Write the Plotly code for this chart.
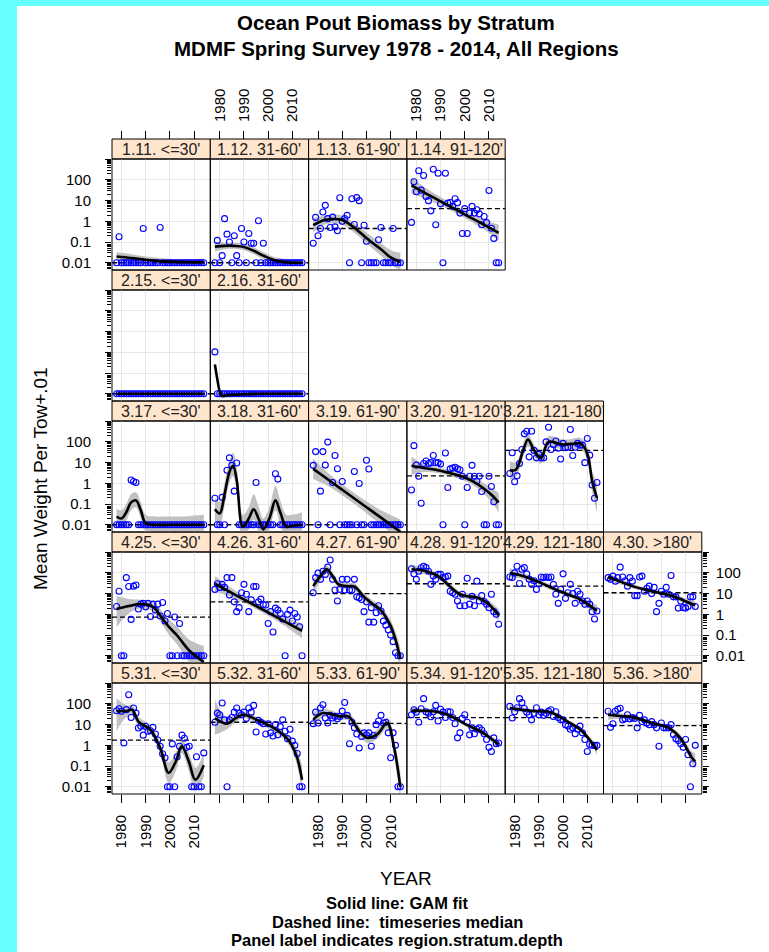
import plotly.graph_objects as go

W, H = 769, 952

YEARS = [1978, 1979, 1980, 1981, 1982, 1983, 1984, 1985, 1986, 1987,
         1988, 1989, 1990, 1991, 1992, 1993, 1994, 1995, 1996, 1997,
         1998, 1999, 2000, 2001, 2002, 2003, 2004, 2005, 2006, 2007,
         2008, 2009, 2010, 2011, 2012, 2013, 2014]

LABELS = ["1.11. <=30'", "1.12. 31-60'", "1.13. 61-90'", "1.14. 91-120'",
          "2.15. <=30'", "2.16. 31-60'",
          "3.17. <=30'", "3.18. 31-60'", "3.19. 61-90'", "3.20. 91-120'", "3.21. 121-180'",
          "4.25. <=30'", "4.26. 31-60'", "4.27. 61-90'", "4.28. 91-120'", "4.29. 121-180'", "4.30. >180'",
          "5.31. <=30'", "5.32. 31-60'", "5.33. 61-90'", "5.34. 91-120'", "5.35. 121-180'", "5.36. >180'"]
ROWS = [1, 1, 1, 1, 2, 2, 3, 3, 3, 3, 3, 4, 4, 4, 4, 4, 4, 5, 5, 5, 5, 5, 5]
COLS = [1, 2, 3, 4, 1, 2, 1, 2, 3, 4, 5, 1, 2, 3, 4, 5, 6, 1, 2, 3, 4, 5, 6]
MEDIANS = [0.01, 0.01, 0.45, 4.1, 0.01, 0.01, 0.01, 0.01, 0.01, 2.3, 39,
           0.74, 4, 10, 30, 23, 11, 1.8, 13, 11.5, 22, 22, 9]

X_TICKS = [1980, 1990, 2000, 2010]
X_TICK_TEXT = ["1980", "1990", "2000", "2010"]
Y_TICKS = [0.01, 0.1, 1, 10, 100, 1000]
Y_TICK_TEXT = ["0.01", "0.1", "1", "10", "100", ""]

# ---------------- panel data (value + 0.01 per year) ----------------
V_1_11 = [0.01, 0.18, 0.01, 0.01, 0.01, 0.01, 0.01, 0.01, 0.01, 0.01,
          0.01, 0.45, 0.01, 0.01, 0.01, 0.01, 0.01, 0.01, 0.5, 0.01,
          0.01, 0.01, 0.01, 0.01, 0.01, 0.01, 0.01, 0.01, 0.01, 0.01,
          0.01, 0.01, 0.01, 0.01, 0.01, 0.01, 0.01]
FY_1_11 = [1978, 1984, 1990, 1996, 2002, 2008, 2014]
FIT_1_11 = [0.02, 0.017, 0.014, 0.012, 0.011, 0.0105, 0.0105]
LO_1_11 = [0.012, 0.011, 0.0095, 0.009, 0.0085, 0.0085, 0.008]
HI_1_11 = [0.032, 0.026, 0.02, 0.017, 0.015, 0.015, 0.016]

V_1_12 = [0.01, 0.12, 0.01, 0.022, 1.35, 0.24, 0.1, 0.01, 0.2, 0.022,
          0.01, 0.45, 0.1, 0.01, 0.26, 0.087, 0.087, 0.01, 1.07, 0.01,
          0.087, 0.01, 0.01, 0.01, 0.01, 0.01, 0.01, 0.01, 0.01, 0.01,
          0.01, 0.01, 0.01, 0.01, 0.01, 0.01, 0.01]
FY_1_12 = [1978, 1982, 1986, 1990, 1994, 1998, 2002, 2006, 2010, 2014]
FIT_1_12 = [0.06, 0.065, 0.065, 0.058, 0.038, 0.022, 0.014, 0.011, 0.01, 0.01]
LO_1_12 = [0.035, 0.045, 0.047, 0.04, 0.026, 0.015, 0.01, 0.008, 0.0075, 0.007]
HI_1_12 = [0.1, 0.095, 0.09, 0.085, 0.056, 0.033, 0.02, 0.016, 0.014, 0.015]

V_1_13 = [0.087, 1.55, 0.2, 0.45, 2.8, 5.9, 1.35, 0.5, 1.6, 0.54,
          0.35, 13.8, 1.0, 1.35, 1.95, 0.01, 12.3, 0.7, 14, 10,
          0.01, 0.65, 0.11, 0.01, 0.01, 0.01, 0.01, 0.13, 0.5, 0.01,
          0.01, 0.01, 0.01, 0.45, 0.01, 0.01, 0.01]
FY_1_13 = [1978, 1982, 1986, 1990, 1994, 1998, 2002, 2006, 2010, 2014]
FIT_1_13 = [0.65, 1.1, 1.3, 1.15, 0.6, 0.25, 0.1, 0.045, 0.018, 0.011]
LO_1_13 = [0.3, 0.65, 0.8, 0.7, 0.35, 0.14, 0.055, 0.022, 0.008, 0.0045]
HI_1_13 = [1.4, 1.8, 2.1, 1.9, 1.0, 0.45, 0.19, 0.09, 0.04, 0.03]

V_1_14 = [0.89, 82, 27, 275, 32, 163, 16, 10, 3.2, 330,
          0.68, 210, 7, 0.01, 210, 7.6, 8.1, 5.3, 12.3, 8,
          2.5, 0.26, 4.1, 0.26, 2.5, 5.3, 2.5, 3.6, 2.3, 0.68,
          1.7, 0.87, 31, 0.46, 0.15, 0.01, 0.01]
FY_1_14 = [1978, 1984, 1990, 1996, 2002, 2008, 2014]
FIT_1_14 = [54, 22, 9.3, 3.9, 1.6, 0.68, 0.28]
LO_1_14 = [22, 12, 5.8, 2.6, 1.05, 0.4, 0.11]
HI_1_14 = [130, 40, 15, 5.8, 2.5, 1.2, 0.7]

V_2_15 = [0.01, 0.01, 0.01, 0.01, 0.01, 0.01, 0.01, 0.01, 0.01, 0.01,
          0.01, 0.01, 0.01, 0.01, 0.01, 0.01, 0.01, 0.01, 0.01, 0.01,
          0.01, 0.01, 0.01, 0.01, 0.01, 0.01, 0.01, 0.01, 0.01, 0.01,
          0.01, 0.01, 0.01, 0.01, 0.01, 0.01, 0.01]
FY_2_15 = [1978, 1996, 2014]
FIT_2_15 = [0.01, 0.01, 0.01]
LO_2_15 = [0.0095, 0.0095, 0.0095]
HI_2_15 = [0.0105, 0.0105, 0.0105]

V_2_16 = [1.05, 0.01, 0.01, 0.01, 0.01, 0.01, 0.01, 0.01, 0.01, 0.01,
          0.01, 0.01, 0.01, 0.01, 0.01, 0.01, 0.01, 0.01, 0.01, 0.01,
          0.01, 0.01, 0.01, 0.01, 0.01, 0.01, 0.01, 0.01, 0.01, 0.01,
          0.01, 0.01, 0.01, 0.01, 0.01, 0.01, 0.01]
FY_2_16 = [1978, 1979, 1980, 1981, 1983, 1990, 2000, 2014]
FIT_2_16 = [0.26, 0.05, 0.013, 0.008, 0.0085, 0.0095, 0.01, 0.01]
LO_2_16 = [0.2, 0.04, 0.01, 0.0065, 0.007, 0.008, 0.0085, 0.0085]
HI_2_16 = [0.32, 0.065, 0.017, 0.011, 0.012, 0.0125, 0.013, 0.013]

V_3_17 = [0.01, 0.01, 0.01, 0.01, 0.01, 0.01, 1.45, 1.23, 1.1, 0.01,
          0.01, 0.01, 0.01, 0.01, 0.01, 0.01, 0.01, 0.01, 0.01, 0.01,
          0.01, 0.01, 0.01, 0.01, 0.01, 0.01, 0.01, 0.01, 0.01, 0.01,
          0.01, 0.01, 0.01, 0.01, 0.01, 0.01, 0.01]
FY_3_17 = [1978, 1980, 1982, 1984, 1986, 1988, 1990, 1994, 2000, 2006, 2014]
FIT_3_17 = [0.025, 0.02, 0.04, 0.12, 0.15, 0.05, 0.012, 0.01, 0.01, 0.01, 0.01]
LO_3_17 = [0.008, 0.007, 0.015, 0.05, 0.07, 0.02, 0.005, 0.005, 0.005, 0.005, 0.005]
HI_3_17 = [0.06, 0.05, 0.1, 0.3, 0.36, 0.12, 0.03, 0.025, 0.025, 0.025, 0.03]

V_3_18 = [0.19, 0.01, 0.01, 0.21, 0.01, 4.3, 17, 7.4, 0.42, 9.6,
          0.01, 0.01, 0.01, 0.01, 0.01, 0.01, 0.01, 1.1, 0.01, 0.01,
          0.01, 0.01, 0.01, 0.01, 0.01, 2.9, 1.6, 0.01, 0.01, 0.01,
          0.01, 0.01, 0.01, 0.01, 0.01, 0.01, 0.01]
FY_3_18 = [1978, 1980, 1982, 1984, 1985.5, 1987, 1989.5, 1992, 1994, 1996,
           1998, 2000.5, 2003, 2005, 2007.5, 2010, 2014]
FIT_3_18 = [0.056, 0.035, 0.3, 3.5, 7, 1.5, 0.008, 0.02, 0.056, 0.02,
            0.006, 0.02, 0.15, 0.04, 0.008, 0.009, 0.01]
LO_3_18 = [0.015, 0.01, 0.08, 1.1, 2.2, 0.4, 0.002, 0.006, 0.018, 0.005,
           0.002, 0.006, 0.05, 0.01, 0.002, 0.003, 0.003]
HI_3_18 = [0.2, 0.12, 1.1, 12, 30, 6, 0.03, 0.07, 0.3, 0.08,
           0.02, 0.07, 0.75, 0.15, 0.03, 0.03, 0.04]

V_3_19 = [7.4, 34, 0.01, 0.42, 34, 7.6, 98, 0.01, 1.1, 22,
          5.1, 0.01, 1.23, 0.01, 0.01, 0.01, 0.01, 3.7, 0.01, 0.98,
          0.01, 0.01, 13, 4.9, 0.01, 0.01, 0.01, 0.01, 0.01, 0.01,
          0.01, 0.01, 0.01, 0.01, 0.01, 0.01, 0.01]
FY_3_19 = [1978, 1985, 1992, 1999, 2006, 2014]
FIT_3_19 = [5.0, 1.3, 0.33, 0.085, 0.022, 0.0046]
LO_3_19 = [1.6, 0.65, 0.18, 0.045, 0.01, 0.0018]
HI_3_19 = [16, 2.6, 0.6, 0.16, 0.05, 0.018]

V_3_20 = [0.48, 66, 7.6, 2.2, 0.11, 9, 12, 9, 10, 22,
          10, 10, 8.5, 0.01, 29, 0.63, 5, 5.5, 6, 5,
          4.5, 2.2, 0.01, 0.63, 2.2, 7.4, 2.2, 1.3, 2.2, 0.4,
          0.01, 0.01, 2.2, 0.7, 0.13, 0.01, 0.01]
FY_3_20 = [1978, 1983, 1988, 1993, 1998, 2003, 2008, 2011, 2014]
FIT_3_20 = [7, 5.5, 4.5, 3.3, 2.3, 1.3, 0.55, 0.28, 0.12]
LO_3_20 = [2.5, 3.5, 3.2, 2.4, 1.6, 0.85, 0.3, 0.13, 0.04]
HI_3_20 = [20, 8.5, 6.3, 4.5, 3.3, 2.0, 1.0, 0.6, 0.35]

V_3_21 = [3.0, 30, 1.2, 2.3, 9, 43, 245, 330, 19, 330,
          39, 17, 25, 17, 17, 100, 510, 43, 76, 110,
          50, 15, 85, 52, 55, 400, 22, 55, 85, 70,
          70, 10, 145, 23, 0.83, 0.19, 1.1]
FY_3_21 = [1978, 1980.5, 1983.5, 1985.5, 1987.5, 1989.5, 1991, 1994, 1999.5,
           2003.5, 2007, 2009, 2010.5, 2012, 2014]
FIT_3_21 = [4.3, 4.5, 39, 130, 52, 22, 17, 100, 76, 80, 85, 50, 17, 1.3, 0.2]
LO_3_21 = [1.5, 2, 18, 60, 28, 11, 9, 55, 45, 45, 45, 25, 7, 0.4, 0.04]
HI_3_21 = [12, 10, 80, 280, 95, 40, 33, 190, 130, 140, 160, 100, 40, 4, 1.0]

V_4_25 = [2.4, 13, 0.01, 0.01, 59, 22, 0.57, 23, 26, 1.8,
          3.1, 3.4, 2.3, 3.4, 0.78, 3.1, 1.6, 3.1, 0.83, 3.7,
          0.48, 1.1, 0.01, 0.01, 0.74, 0.01, 0.36, 0.01, 0.01, 0.01,
          0.01, 0.01, 0.01, 0.01, 0.01, 0.01, 0.01]
FY_4_25 = [1978, 1983, 1988, 1993, 1997, 2000, 2003, 2008, 2014]
FIT_4_25 = [1.8, 2.5, 3.1, 2.3, 0.6, 0.22, 0.095, 0.018, 0.005]
LO_4_25 = [0.24, 1.1, 1.9, 1.4, 0.3, 0.09, 0.035, 0.005, 0.001]
HI_4_25 = [7.6, 5.5, 5, 4, 1.3, 0.5, 0.25, 0.06, 0.03]

V_4_26 = [16, 30, 20, 28, 20, 59, 8.5, 59, 4, 1.35,
          2.1, 11, 28, 9.3, 1.35, 5, 22, 22, 4, 5.4,
          3, 2.8, 0.36, 1.35, 0.14, 2, 1.6, 1.1, 0.6, 0.01,
          1.0, 1.6, 0.48, 1.1, 0.74, 0.25, 0.01]
FY_4_26 = [1978, 1987, 1996, 2005, 2014]
FIT_4_26 = [30, 8.1, 2.2, 0.59, 0.16]
LO_4_26 = [13, 5.2, 1.55, 0.38, 0.07]
HI_4_26 = [70, 12.5, 3.1, 0.9, 0.36]

V_4_27 = [11, 59, 98, 49, 120, 85, 190, 420, 49, 15,
          4.4, 16, 49, 15, 49, 15, 15, 49, 7, 6.3,
          5.2, 1.35, 4, 0.42, 2.1, 0.42, 1.2, 2.6, 1.45, 0.47,
          0.3, 0.18, 0.1, 0.048, 0.014, 0.01, 0.01]
FY_4_27 = [1978, 1981, 1983.6, 1986, 1988.5, 1992, 1995, 1998.7, 2002,
           2005.5, 2009.7, 2012, 2014]
FIT_4_27 = [23, 70, 150, 70, 28, 23, 22, 7.6, 3.5, 1.8, 0.33, 0.06, 0.007]
LO_4_27 = [10, 40, 95, 45, 19, 16, 15, 5, 2.3, 1.1, 0.18, 0.025, 0.002]
HI_4_27 = [50, 120, 230, 110, 40, 33, 32, 11, 5.3, 2.8, 0.6, 0.15, 0.025]

V_4_28 = [160, 91, 49, 120, 178, 210, 180, 120, 28, 70,
          49, 85, 85, 60, 63, 70, 13, 11, 9.3, 4.4,
          2.6, 9.3, 2.6, 55, 3.1, 7.4, 2.6, 40, 4.4, 8,
          4.2, 3.1, 2.1, 9.3, 1.35, 1.0, 0.33]
FY_4_28 = [1978, 1984, 1989.6, 1993.7, 1998, 2001, 2004.9, 2009.2, 2014]
FIT_4_28 = [150, 120, 63, 23, 9.3, 7.5, 6.5, 3.6, 0.9]
LO_4_28 = [90, 85, 45, 16, 6.8, 5.3, 4.8, 2.5, 0.45]
HI_4_28 = [250, 170, 88, 33, 12.5, 10.5, 9, 5.2, 1.8]

V_4_29 = [63, 60, 100, 210, 31, 150, 180, 90, 50, 28,
          42, 16, 30, 63, 60, 63, 60, 63, 28, 9.3,
          3.4, 16, 90, 5.9, 11, 28, 10, 3.4, 13, 9.3,
          4.4, 3.1, 4.4, 3.1, 1.35, 0.6, 1.45]
FY_4_29 = [1978, 1982, 1986, 1990.5, 1994.5, 1998.6, 2002, 2005.5, 2009.5, 2014]
FIT_4_29 = [100, 80, 55, 34, 21, 13, 9, 6.5, 3.5, 1.5]
LO_4_29 = [60, 55, 40, 26, 16, 10, 7, 4.8, 2.4, 0.8]
HI_4_29 = [170, 115, 75, 45, 28, 17, 12, 8.8, 5.2, 2.8]

V_4_30 = [59, 49, 70, 40, 59, 190, 63, 42, 23, 59,
          40, 8, 8, 63, 70, 13, 18, 23, 10, 20,
          1.35, 3.4, 13, 9.3, 20, 9.3, 75, 7, 7, 2.0,
          4.4, 2.1, 2.0, 2.4, 7, 7, 2.4]
FY_4_30 = [1978, 1983, 1988, 1992, 1996.3, 2000.5, 2004.6, 2009, 2014]
FIT_4_30 = [63, 38, 23, 17, 13, 10, 7.6, 4.8, 2.7]
LO_4_30 = [40, 28, 18, 13.5, 10.5, 8, 6, 3.6, 1.7]
HI_4_30 = [100, 52, 29, 21, 16, 12.5, 9.6, 6.4, 4.3]

V_5_31 = [47, 58, 44, 1.3, 53, 275, 22, 63, 36, 6.9,
          8.3, 3.1, 8.3, 4.8, 5.1, 7.4, 3.5, 1.8, 0.9, 0.39,
          0.25, 0.01, 0.01, 1.17, 0.01, 0.28, 0.9, 3.1, 2.2, 0.8,
          0.9, 0.01, 0.01, 0.28, 0.01, 0.01, 0.43]
FY_5_31 = [1978, 1980.5, 1982.5, 1984.5, 1987, 1992, 1996, 1999.5, 2002.5,
           2004.9, 2007.8, 2010.5, 2014]
FIT_5_31 = [44, 45, 47, 53, 14, 5.6, 0.74, 0.047, 0.17, 0.9, 0.17, 0.022, 0.11]
LO_5_31 = [4.8, 15, 25, 30, 8, 3.5, 0.4, 0.015, 0.06, 0.4, 0.06, 0.006, 0.03]
HI_5_31 = [190, 110, 85, 90, 24, 9, 1.4, 0.15, 0.45, 2, 0.45, 0.08, 0.4]

V_5_32 = [13, 36, 30, 110, 17, 0.01, 17, 22, 40, 63,
          36, 30, 40, 20, 63, 40, 85, 4.4, 16, 13,
          11, 3.5, 11, 4, 2.8, 10, 3.2, 8, 17, 4.8,
          2.1, 6, 1.6, 1.0, 0.4, 0.01, 0.01]
FY_5_32 = [1978, 1983, 1986.5, 1989.9, 1995.3, 2002.2, 2007.9, 2010, 2012, 2014]
FIT_5_32 = [21, 11, 20, 30, 17, 7, 2.1, 0.9, 0.25, 0.022]
LO_5_32 = [3.2, 6, 13, 21, 12, 4.8, 1.3, 0.5, 0.1, 0.005]
HI_5_32 = [160, 20, 30, 43, 24, 10, 3.4, 1.7, 0.6, 0.1]

V_5_33 = [11, 40, 12, 63, 91, 21, 12, 28, 21, 25,
          19, 25, 45, 117, 28, 1.2, 13, 7, 3.5, 0.74,
          2.7, 4, 3.2, 4, 0.9, 3, 10, 15, 28, 12,
          13, 4, 0.25, 4, 1.0, 0.01, 0.01]
FY_5_33 = [1978, 1982, 1989, 1992.5, 1997.6, 2000.4, 2004.5, 2008.6, 2011.3, 2014]
FIT_5_33 = [17, 36, 25, 25, 4, 2.3, 3.5, 12, 0.9, 0.01]
LO_5_33 = [7, 22, 17, 16, 2.4, 1.3, 2.1, 6.5, 0.35, 0.002]
HI_5_33 = [40, 58, 37, 38, 6.5, 3.8, 5.8, 22, 2.4, 0.05]

V_5_34 = [30, 52, 40, 13, 58, 180, 42, 35, 24, 42,
          85, 15, 55, 40, 22, 42, 42, 22, 11, 2.3,
          4, 20, 30, 13, 3.2, 7, 3.6, 6, 7, 5.5,
          3.6, 1.9, 0.8, 0.5, 2.3, 1.2, 1.3]
FY_5_34 = [1978, 1982, 1987, 1993, 2000.6, 2007.5, 2014]
FIT_5_34 = [47, 47, 44, 30, 10, 4, 1.1]
LO_5_34 = [30, 36, 35, 24, 8, 3.1, 0.75]
HI_5_34 = [70, 60, 55, 37, 12.5, 5.2, 1.6]

V_5_35 = [76, 21, 42, 65, 180, 115, 60, 40, 30, 17,
          35, 65, 30, 40, 28, 35, 45, 52, 25, 42,
          22, 17, 17, 10, 8.5, 6, 7, 3.6, 6, 8.5,
          4, 1.9, 0.5, 1.1, 1.0, 1.0, 1.0]
FY_5_35 = [1978, 1983, 1988, 1995, 2001.7, 2007.2, 2012, 2014]
FIT_5_35 = [63, 52, 45, 39, 14.5, 5.6, 1.3, 0.6]
LO_5_35 = [42, 40, 36, 31, 11.5, 4.3, 0.9, 0.35]
HI_5_35 = [95, 68, 56, 49, 18, 7.3, 1.9, 1.0]

V_5_36 = [44, 7.4, 11, 44, 55, 62, 17, 19, 30, 19,
          22, 20, 7, 28, 14, 17, 12, 10, 14, 10,
          7, 0.9, 12, 7, 7, 7, 10, 3.3, 2.1, 1.7,
          1.2, 0.8, 1.9, 0.35, 0.01, 0.13, 1.0]
FY_5_36 = [1978, 1983, 1988, 1996.2, 2003, 2007.8, 2012.6, 2014]
FIT_5_36 = [30, 26, 23, 12, 7, 2.3, 0.25, 0.17]
LO_5_36 = [17, 19, 18, 9.5, 5.5, 1.6, 0.13, 0.07]
HI_5_36 = [53, 35, 29, 15, 9, 3.3, 0.5, 0.4]

SERIES = [
    (V_1_11, FY_1_11, FIT_1_11, LO_1_11, HI_1_11),
    (V_1_12, FY_1_12, FIT_1_12, LO_1_12, HI_1_12),
    (V_1_13, FY_1_13, FIT_1_13, LO_1_13, HI_1_13),
    (V_1_14, FY_1_14, FIT_1_14, LO_1_14, HI_1_14),
    (V_2_15, FY_2_15, FIT_2_15, LO_2_15, HI_2_15),
    (V_2_16, FY_2_16, FIT_2_16, LO_2_16, HI_2_16),
    (V_3_17, FY_3_17, FIT_3_17, LO_3_17, HI_3_17),
    (V_3_18, FY_3_18, FIT_3_18, LO_3_18, HI_3_18),
    (V_3_19, FY_3_19, FIT_3_19, LO_3_19, HI_3_19),
    (V_3_20, FY_3_20, FIT_3_20, LO_3_20, HI_3_20),
    (V_3_21, FY_3_21, FIT_3_21, LO_3_21, HI_3_21),
    (V_4_25, FY_4_25, FIT_4_25, LO_4_25, HI_4_25),
    (V_4_26, FY_4_26, FIT_4_26, LO_4_26, HI_4_26),
    (V_4_27, FY_4_27, FIT_4_27, LO_4_27, HI_4_27),
    (V_4_28, FY_4_28, FIT_4_28, LO_4_28, HI_4_28),
    (V_4_29, FY_4_29, FIT_4_29, LO_4_29, HI_4_29),
    (V_4_30, FY_4_30, FIT_4_30, LO_4_30, HI_4_30),
    (V_5_31, FY_5_31, FIT_5_31, LO_5_31, HI_5_31),
    (V_5_32, FY_5_32, FIT_5_32, LO_5_32, HI_5_32),
    (V_5_33, FY_5_33, FIT_5_33, LO_5_33, HI_5_33),
    (V_5_34, FY_5_34, FIT_5_34, LO_5_34, HI_5_34),
    (V_5_35, FY_5_35, FIT_5_35, LO_5_35, HI_5_35),
    (V_5_36, FY_5_36, FIT_5_36, LO_5_36, HI_5_36),
]

# ---------------- layout geometry / style ----------------
X_RANGE = [1976.1, 2016.7]
Y_RANGE = [-2.35, 3.01]
COL_LEFT0, COL_W = 112.0, 98.3
STRIP_TOP0, ROW_STEP, STRIP_H, PANEL_H = 139.0, 131.0, 20.0, 111.0
FONT = "Liberation Sans, Arial, sans-serif"
STRIP_FILL = "#FFE5CC"
BAND = "#C1C1C1"
GRID = "#E6E6E6"
POINT = "#0000FF"
MINOR = [m * 10.0 ** k for k in range(-3, 3) for m in range(2, 10)]

fig = go.Figure()
shapes, annotations = [], []
layout_axes = {}


def fx(p):
    return p / W


def fy(p):
    return 1 - p / H


for i, (lab, r, c, med, ser) in enumerate(zip(LABELS, ROWS, COLS, MEDIANS, SERIES)):
    k = i + 1
    vals, fyears, fit, lo, hi = ser
    assert len(vals) == len(YEARS), lab
    xa = "x" if k == 1 else f"x{k}"
    ya = "y" if k == 1 else f"y{k}"
    left = COL_LEFT0 + COL_W * (c - 1)
    strip_top = STRIP_TOP0 + ROW_STEP * (r - 1)
    ptop = strip_top + STRIP_H
    pbot = ptop + PANEL_H

    common = dict(xaxis=xa, yaxis=ya, showlegend=False, hoverinfo="skip")
    fig.add_trace(go.Scatter(x=fyears, y=hi, mode="lines",
                             line=dict(width=0, shape="spline", color=BAND), **common))
    fig.add_trace(go.Scatter(x=fyears, y=lo, mode="lines", fill="tonexty", fillcolor=BAND,
                             line=dict(width=0, shape="spline", color=BAND), **common))
    fig.add_trace(go.Scatter(x=X_RANGE, y=[med, med], mode="lines",
                             line=dict(color="black", width=1.3, dash="5px,3px"), **common))
    fig.add_trace(go.Scatter(x=YEARS, y=vals, mode="markers",
                             marker=dict(symbol="circle-open", size=6, color=POINT,
                                         line=dict(width=1.1, color=POINT)), **common))
    fig.add_trace(go.Scatter(x=fyears, y=fit, mode="lines",
                             line=dict(color="black", width=2.6, shape="spline"), **common))

    # x axis
    xdict = dict(domain=[fx(left), fx(left + COL_W)], range=X_RANGE, anchor=ya,
                 tickmode="array", tickvals=X_TICKS, ticktext=X_TICK_TEXT, tickangle=-90,
                 showgrid=True, gridcolor=GRID, gridwidth=1, zeroline=False, showline=False,
                 tickfont=dict(family=FONT, size=15, color="black"),
                 tickcolor="black", ticklen=8, tickwidth=1, ticklabelstandoff=6)
    if r == 1:
        xdict.update(side="top", anchor="free", position=fy(strip_top), ticks="outside",
                     showticklabels=(c in (2, 4)))
    elif r == 5:
        xdict.update(side="bottom", ticks="outside", showticklabels=(c in (1, 3, 5)))
    else:
        xdict.update(ticks="", showticklabels=False)

    ydict = dict(domain=[fy(pbot), fy(ptop)], type="log", range=Y_RANGE, anchor=xa,
                 tickmode="array", tickvals=Y_TICKS, ticktext=Y_TICK_TEXT,
                 showgrid=True, gridcolor=GRID, gridwidth=1, zeroline=False, showline=False,
                 tickfont=dict(family=FONT, size=15, color="black"),
                 tickcolor="black", ticklen=6, tickwidth=1)
    if c == 1:
        ydict.update(side="left", ticks="outside", showticklabels=(r in (1, 3, 5)),
                     ticklabelstandoff=11,
                     minor=dict(tickmode="array", tickvals=MINOR, ticks="outside", ticklen=4,
                                tickcolor="black", tickwidth=1, showgrid=False))
    elif c == 6:
        ydict.update(side="right", ticks="outside", showticklabels=(r in (2, 4)),
                     ticklabelstandoff=4,
                     minor=dict(tickmode="array", tickvals=MINOR, ticks="outside", ticklen=4,
                                tickcolor="black", tickwidth=1, showgrid=False))
    else:
        ydict.update(ticks="", showticklabels=False,
                     minor=dict(ticks="", showgrid=False))

    layout_axes["xaxis" if k == 1 else f"xaxis{k}"] = xdict
    layout_axes["yaxis" if k == 1 else f"yaxis{k}"] = ydict

    # panel border and strip
    shapes.append(dict(type="rect", xref="paper", yref="paper",
                       x0=fx(left), x1=fx(left + COL_W), y0=fy(pbot), y1=fy(ptop),
                       line=dict(color="black", width=1), fillcolor="rgba(0,0,0,0)", layer="above"))
    shapes.append(dict(type="rect", xref="paper", yref="paper",
                       x0=fx(left), x1=fx(left + COL_W), y0=fy(ptop), y1=fy(strip_top),
                       line=dict(color="black", width=1), fillcolor=STRIP_FILL, layer="below"))
    annotations.append(dict(text=lab, xref="paper", yref="paper",
                            x=fx(left + COL_W / 2), y=fy(strip_top + STRIP_H / 2),
                            xanchor="center", yanchor="middle", showarrow=False,
                            font=dict(family=FONT, size=16, color="#222222")))

# cyan frame
shapes.append(dict(type="rect", xref="paper", yref="paper", x0=0, x1=fx(17), y0=0, y1=1,
                   line=dict(width=0), fillcolor="#66FFFF", layer="above"))
shapes.append(dict(type="rect", xref="paper", yref="paper", x0=0, x1=1, y0=fy(6), y1=1,
                   line=dict(width=0), fillcolor="#66FFFF", layer="above"))


# titles and footnotes
def ann(text, x, y, size, bold=False, angle=0):
    annotations.append(dict(text=f"<b>{text}</b>" if bold else text, xref="paper", yref="paper",
                            x=fx(x), y=fy(y), xanchor="center", yanchor="middle",
                            showarrow=False, textangle=angle,
                            font=dict(family=FONT, size=size, color="black")))


ann("Ocean Pout Biomass by Stratum", 396, 22, 20.5, bold=True)
ann("MDMF Spring Survey 1978 - 2014, All Regions", 396, 48, 20.5, bold=True)
ann("Mean Weight Per Tow+.01", 40, 479, 19, angle=-90)
ann("YEAR", 406, 878, 19)
ann("Solid line: GAM fit", 397, 903, 16.5, bold=True)
ann("Dashed line:  timeseries median", 397, 922, 16.5, bold=True)
ann("Panel label indicates region.stratum.depth", 397, 940, 16.5, bold=True)

fig.update_layout(width=W, height=H, margin=dict(l=0, r=0, t=0, b=0),
                  paper_bgcolor="white", plot_bgcolor="white", showlegend=False,
                  shapes=shapes, annotations=annotations, **layout_axes)

fig.write_html("out.html", config={"displayModeBar": False},
               post_script="document.body.style.margin='0px';document.body.style.overflow='hidden';")
